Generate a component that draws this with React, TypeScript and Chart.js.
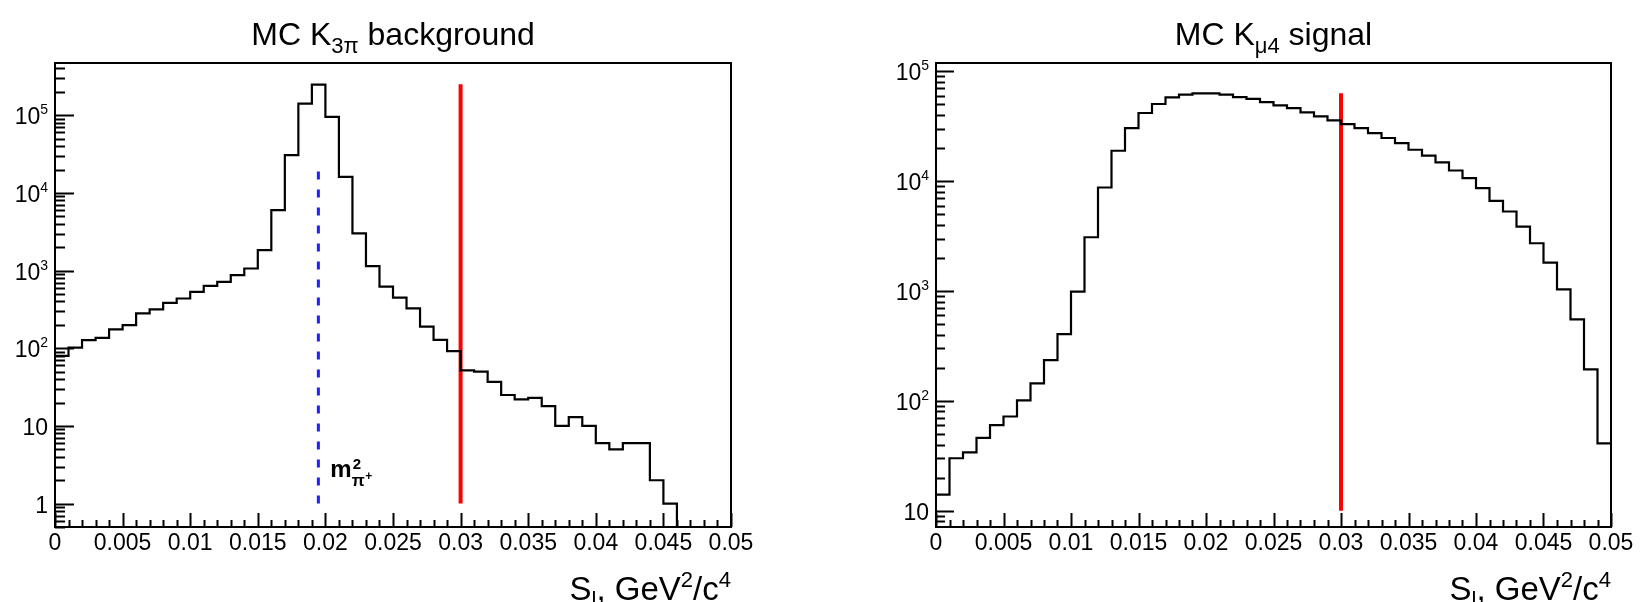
import React, { useEffect, useRef } from "react";
import { Chart, registerables } from "chart.js";

Chart.register(...registerables);

// ---------------- data ----------------
const BIN_EDGES = [
  0, 0.001, 0.002, 0.003, 0.004, 0.005, 0.006, 0.007, 0.008, 0.009,
  0.01, 0.011, 0.012, 0.013, 0.014, 0.015, 0.016, 0.017, 0.018, 0.019,
  0.02, 0.021, 0.022, 0.023, 0.024, 0.025, 0.026, 0.027, 0.028, 0.029,
  0.03, 0.031, 0.032, 0.033, 0.034, 0.035, 0.036, 0.037, 0.038, 0.039,
  0.04, 0.041, 0.042, 0.043, 0.044, 0.045, 0.046, 0.047, 0.048, 0.049, 0.05,
];

const K3PI_COUNTS = [
  80, 102, 127, 136, 175, 198, 281, 316, 384, 437,
  532, 635, 716, 873, 1064, 1830, 6000, 30600, 141000, 248000,
  95000, 16100, 3010, 1143, 620, 448, 326, 190, 128, 92,
  52, 50, 37, 25, 22, 23, 18, 10, 13, 10,
  6, 5, 6, 6, 2, 1, 0, 0, 0, 0,
];

const KMU4_COUNTS = [
  14, 30, 34, 46, 60, 72, 101, 144, 235, 405,
  986, 3085, 8750, 18900, 30400, 41700, 50400, 57900, 61300, 63000,
  63000, 61300, 58300, 56000, 52500, 49000, 46300, 42300, 38900, 35700,
  33100, 30400, 27400, 24700, 22200, 19300, 17100, 14800, 12500, 10650,
  8630, 6620, 5290, 3860, 2720, 1810, 1035, 552, 193, 41,
];

const X_TICKS = [0, 0.005, 0.01, 0.015, 0.02, 0.025, 0.03, 0.035, 0.04, 0.045, 0.05];
const X_TICK_LABELS = ["0", "0.005", "0.01", "0.015", "0.02", "0.025", "0.03", "0.035", "0.04", "0.045", "0.05"];

const K3PI_DECADES = [0, 1, 2, 3, 4, 5];
const KMU4_DECADES = [1, 2, 3, 4, 5];

const K3PI_Y_RANGE = [0.5, 4.7e5];
const KMU4_Y_RANGE = [7.1, 1.19e5];

const CUT_S = 0.03;
const K3PI_CUT_RANGE = [1, 2.5e5];
const KMU4_CUT_RANGE = [10, 6.3e4];

const M_PI2 = 0.01948;
const M_PI2_RANGE = [1, 2.4e4];
const M_PI2_LABEL_Y = 2.2;

// ---------------- style ----------------
const FONT = "'Liberation Sans', Arial, Helvetica, sans-serif";
const W = 1642;
const H = 602;
const HALF = 821;

type Part = { t: string; size: number; dy?: number; bold?: boolean };

function fontOf(p: Part) {
  return `${p.bold ? "bold " : ""}${p.size}px ${FONT}`;
}

function drawRich(ctx: CanvasRenderingContext2D, parts: Part[], x: number, y: number, align: "left" | "center" | "right") {
  let total = 0;
  for (const p of parts) {
    ctx.font = fontOf(p);
    total += ctx.measureText(p.t).width;
  }
  let cx = align === "left" ? x : align === "center" ? x - total / 2 : x - total;
  ctx.textAlign = "left";
  ctx.textBaseline = "alphabetic";
  for (const p of parts) {
    ctx.font = fontOf(p);
    ctx.fillText(p.t, cx, y + (p.dy || 0));
    cx += ctx.measureText(p.t).width;
  }
}

type Spec = {
  counts: number[];
  yRange: number[];
  decades: number[];
  cutRange: number[];
  title: Part[];
  padLeft: number;
  padRight: number;
  majorLen: number;
  minorLen: number;
  showMass: boolean;
};

function stepPoints(counts: number[], yMin: number) {
  const pts = counts.map((c, i) => ({ x: BIN_EDGES[i], y: Math.max(c, yMin) }));
  pts.push({ x: BIN_EDGES[counts.length], y: Math.max(counts[counts.length - 1], yMin) });
  return pts;
}

function makePlugin(spec: Spec) {
  return {
    id: "rootDecor",
    afterDraw(chart: any) {
      const ctx: CanvasRenderingContext2D = chart.ctx;
      const a = chart.chartArea;
      const xs = chart.scales.x;
      const ys = chart.scales.y;
      ctx.save();
      ctx.strokeStyle = "#000";
      ctx.fillStyle = "#000";
      ctx.lineCap = "butt";

      // frame
      ctx.lineWidth = 2;
      ctx.strokeRect(a.left, a.top, a.right - a.left, a.bottom - a.top);

      // y ticks
      ctx.lineWidth = 2;
      const dMin = Math.floor(Math.log10(spec.yRange[0]));
      const dMax = Math.ceil(Math.log10(spec.yRange[1]));
      for (let d = dMin; d <= dMax; d++) {
        for (let m = 1; m <= 9; m++) {
          const v = m * Math.pow(10, d);
          if (v < spec.yRange[0] || v > spec.yRange[1]) continue;
          const y = Math.round(ys.getPixelForValue(v)) + 0.5;
          const len = m === 1 ? spec.majorLen : spec.minorLen;
          ctx.beginPath();
          ctx.moveTo(a.left, y);
          ctx.lineTo(a.left + len, y);
          ctx.stroke();
        }
      }

      // x ticks
      BIN_EDGES.forEach((v, i) => {
        const x = Math.round(xs.getPixelForValue(v)) + 0.5;
        const len = i % 5 === 0 ? 14 : 7;
        ctx.beginPath();
        ctx.moveTo(x, a.bottom);
        ctx.lineTo(x, a.bottom - len);
        ctx.stroke();
      });

      // y labels
      for (const d of spec.decades) {
        const y = ys.getPixelForValue(Math.pow(10, d)) + 9;
        const rx = a.left - 7;
        let parts: Part[];
        if (d === 0) parts = [{ t: "1", size: 23 }];
        else if (d === 1) parts = [{ t: "10", size: 23 }];
        else parts = [{ t: "10", size: 23 }, { t: String(d), size: 14, dy: -10 }];
        drawRich(ctx, parts, rx, y, "right");
      }

      // title
      drawRich(ctx, spec.title, (a.left + a.right) / 2, 45, "center");

      // axis title
      drawRich(
        ctx,
        [
          { t: "S", size: 33 },
          { t: "l", size: 22, dy: 7 },
          { t: ", GeV", size: 33 },
          { t: "2", size: 22, dy: -13 },
          { t: "/c", size: 33 },
          { t: "4", size: 22, dy: -13 },
        ],
        a.right,
        600,
        "right"
      );

      // mass label
      if (spec.showMass) {
        const lx = xs.getPixelForValue(M_PI2) + 12;
        const ly = ys.getPixelForValue(M_PI2_LABEL_Y);
        ctx.textAlign = "left";
        ctx.textBaseline = "alphabetic";
        ctx.font = `bold 24px ${FONT}`;
        ctx.fillText("m", lx, ly);
        const mw = ctx.measureText("m").width;
        ctx.font = `bold 15px ${FONT}`;
        ctx.fillText("2", lx + mw + 1, ly - 8);
        ctx.font = `bold 17px ${FONT}`;
        ctx.fillText("π", lx + mw + 0, ly + 9);
        const pw = ctx.measureText("π").width;
        ctx.font = `bold 12px ${FONT}`;
        ctx.fillText("+", lx + mw + pw + 0.5, ly + 3);
      }
      ctx.restore();
    },
  };
}

function buildConfig(spec: Spec): any {
  const datasets: any[] = [
    {
      data: stepPoints(spec.counts, spec.yRange[0]),
      borderColor: "#000000",
      borderWidth: 2.2,
      stepped: true,
      pointRadius: 0,
      fill: false,
    },
    {
      data: [
        { x: CUT_S, y: spec.cutRange[0] },
        { x: CUT_S, y: spec.cutRange[1] },
      ],
      borderColor: "#ff0000",
      borderWidth: 4,
      borderCapStyle: "butt",
      pointRadius: 0,
      fill: false,
    },
  ];
  if (spec.showMass) {
    datasets.push({
      data: [
        { x: M_PI2, y: M_PI2_RANGE[0] },
        { x: M_PI2, y: M_PI2_RANGE[1] },
      ],
      borderColor: "#1f1fff",
      borderWidth: 3,
      borderDash: [8, 10],
      borderCapStyle: "butt",
      pointRadius: 0,
      fill: false,
    });
  }
  return {
    type: "line",
    data: { datasets },
    options: {
      animation: false,
      responsive: false,
      events: [],
      layout: { padding: { left: spec.padLeft, right: spec.padRight, top: 63, bottom: 0 } },
      plugins: {
        legend: { display: false },
        tooltip: { enabled: false },
        title: { display: false },
      },
      scales: {
        x: {
          type: "linear",
          min: 0,
          max: 0.05,
          afterBuildTicks: (s: any) => {
            s.ticks = X_TICKS.map((v) => ({ value: v }));
          },
          afterFit: (s: any) => {
            s.height = 75;
          },
          ticks: {
            callback: (_v: any, i: number) => X_TICK_LABELS[i],
            font: { family: FONT, size: 23 },
            color: "#000000",
            padding: 3,
            maxRotation: 0,
            minRotation: 0,
            autoSkip: false,
          },
          grid: { display: false, drawTicks: false },
          border: { display: false },
        },
        y: {
          type: "logarithmic",
          min: spec.yRange[0],
          max: spec.yRange[1],
          display: false,
        },
      },
    },
    plugins: [makePlugin(spec)],
  };
}

const LEFT_SPEC: Spec = {
  counts: K3PI_COUNTS,
  yRange: K3PI_Y_RANGE,
  decades: K3PI_DECADES,
  cutRange: K3PI_CUT_RANGE,
  title: [
    { t: "MC K", size: 32 },
    { t: "3π", size: 22, dy: 8 },
    { t: " background", size: 32 },
  ],
  padLeft: 55,
  padRight: HALF - 731,
  majorLen: 19,
  minorLen: 10,
  showMass: true,
};

const RIGHT_SPEC: Spec = {
  counts: KMU4_COUNTS,
  yRange: KMU4_Y_RANGE,
  decades: KMU4_DECADES,
  cutRange: KMU4_CUT_RANGE,
  title: [
    { t: "MC K", size: 32 },
    { t: "μ4", size: 22, dy: 8 },
    { t: " signal", size: 32 },
  ],
  padLeft: 936 - HALF,
  padRight: HALF - 1611 + HALF,
  majorLen: 18,
  minorLen: 9,
  showMass: false,
};

function Panel({ spec, left }: { spec: Spec; left: number }) {
  const ref = useRef<HTMLCanvasElement | null>(null);
  useEffect(() => {
    if (!ref.current) return;
    const chart = new Chart(ref.current, buildConfig(spec));
    return () => chart.destroy();
  }, [spec]);
  return (
    <canvas
      ref={ref}
      width={HALF}
      height={H}
      style={{ position: "absolute", left, top: 0, width: HALF, height: H }}
    />
  );
}

export default function App() {
  return (
    <div style={{ position: "fixed", left: 0, top: 0, width: W, height: H, background: "#ffffff", overflow: "hidden" }}>
      <Panel spec={LEFT_SPEC} left={0} />
      <Panel spec={RIGHT_SPEC} left={HALF} />
    </div>
  );
}
